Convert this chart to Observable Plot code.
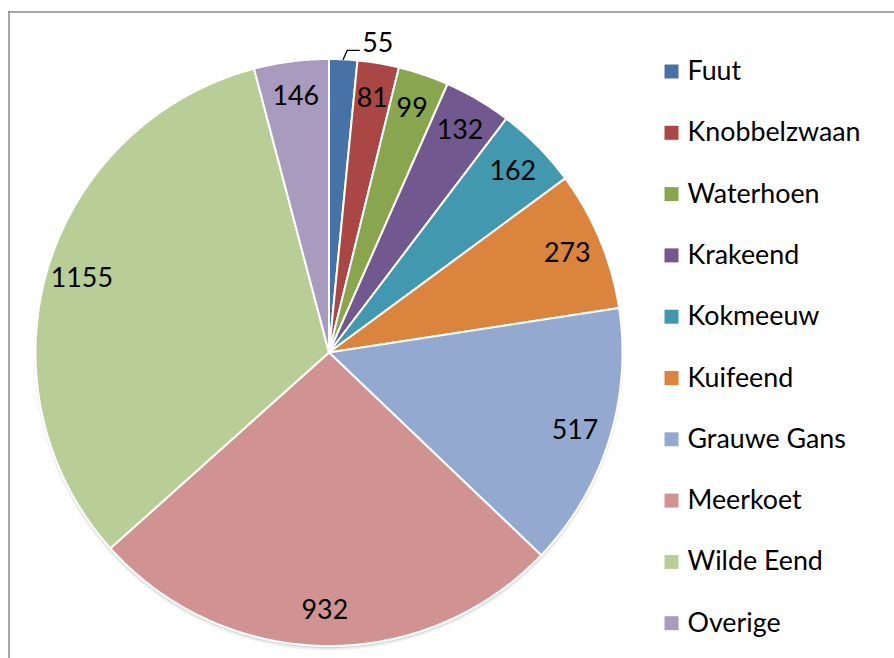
<!DOCTYPE html>
<html>
<head>
<meta charset="utf-8">
<script src="https://cdn.jsdelivr.net/npm/d3@7"></script>
<script src="https://cdn.jsdelivr.net/npm/@observablehq/plot@0.6"></script>
<style>
  html, body { margin: 0; padding: 0; background: #fff; }
  #chart svg { display: block; }
</style>
</head>
<body>
<div id="chart"></div>
<script>
// Data
const categories = ["Fuut", "Knobbelzwaan", "Waterhoen", "Krakeend", "Kokmeeuw", "Kuifeend", "Grauwe Gans", "Meerkoet", "Wilde Eend", "Overige"];
const values = [55, 81, 99, 132, 162, 273, 517, 932, 1155, 146];
const colors = ["#4672A8", "#AA4643", "#89A54E", "#71588F", "#4198AF", "#DB843D", "#93A9CF", "#D19392", "#B9CD96", "#A99BBD"];

// Layout
const W = 894, H = 658;
const cx = 328.5, cy = 352, R = 293.5;
const labelR = 258;
const font = "Lato, 'Open Sans', sans-serif";
const fs = 26.8;

const total = d3.sum(values);
let acc = 0;
const slices = categories.map((name, i) => {
  const a0 = acc / total * 2 * Math.PI;
  acc += values[i];
  const a1 = acc / total * 2 * Math.PI;
  return {name, value: values[i], a0, a1, mid: (a0 + a1) / 2, i};
});
const px = (a, r) => cx + r * Math.sin(a);
const py = (a, r) => cy - r * Math.cos(a);

// slice outlines (center -> arc -> center)
const slicePts = [];
for (const s of slices) {
  slicePts.push({name: s.name, x: cx, y: cy});
  const n = Math.max(2, Math.ceil((s.a1 - s.a0) / (Math.PI / 360)));
  for (let k = 0; k <= n; k++) {
    const a = s.a0 + (s.a1 - s.a0) * k / n;
    slicePts.push({name: s.name, x: px(a, R), y: py(a, R)});
  }
  slicePts.push({name: s.name, x: cx, y: cy});
}

// labels: inside except the small Fuut slice
const inside = slices.filter(s => s.i !== 0).map(s => ({label: String(s.value), x: px(s.mid, labelR), y: py(s.mid, labelR)}));
const fuut = slices[0];
const p0 = {x: px(fuut.mid, R), y: py(fuut.mid, R)};
const leader = [p0, {x: p0.x + 4, y: p0.y - 9}, {x: p0.x + 16, y: p0.y - 9}];
const outside = [{label: String(fuut.value), x: leader[2].x + 3, y: leader[2].y - 7}];

// legend
const legend = categories.map((name, i) => ({name, x: 671, y: 71 + i * 61.3}));

const chart = Plot.plot({
  width: W, height: H,
  margin: 0,
  x: {domain: [0, W], range: [0, W], axis: null},
  y: {domain: [0, H], range: [0, H], axis: null},
  color: {domain: categories, range: colors},
  style: {fontFamily: font, background: "#fff"},
  marks: [
    Plot.ruleY([11.5], {x1: 8, x2: W, stroke: "#8a8a8a", strokeWidth: 1.5}),
    Plot.ruleX([8.5], {y1: 11, y2: H, stroke: "#8a8a8a", strokeWidth: 1.5}),
    // soft shadow
    Plot.dot([{x: cx, y: cy + 3}], {x: "x", y: "y", r: R + 1.5, fill: "#000", fillOpacity: 0.06, stroke: "none"}),
    Plot.dot([{x: cx, y: cy + 2}], {x: "x", y: "y", r: R + 0.5, fill: "#000", fillOpacity: 0.10, stroke: "none"}),
    Plot.dot([{x: cx, y: cy}], {x: "x", y: "y", r: R + 1, fill: "#fff", stroke: "none"}),
    Plot.line(slicePts, {x: "x", y: "y", z: "name", fill: "name", stroke: "white", strokeWidth: 2, strokeLinejoin: "round", curve: "linear-closed"}),
    Plot.text(inside, {x: "x", y: "y", text: "label", fontSize: fs, fill: "#000"}),
    Plot.line(leader, {x: "x", y: "y", stroke: "#000", strokeWidth: 1.3}),
    Plot.text(outside, {x: "x", y: "y", text: "label", fontSize: fs, fill: "#000", textAnchor: "start"}),
    Plot.dot(legend, {x: "x", y: "y", symbol: "square", r: 7.9, fill: "name", stroke: "none"}),
    Plot.text(legend, {x: "x", y: "y", text: "name", dx: 16, textAnchor: "start", fontSize: fs, fill: "#000"})
  ]
});
document.getElementById("chart").appendChild(chart);
</script>
</body>
</html>
